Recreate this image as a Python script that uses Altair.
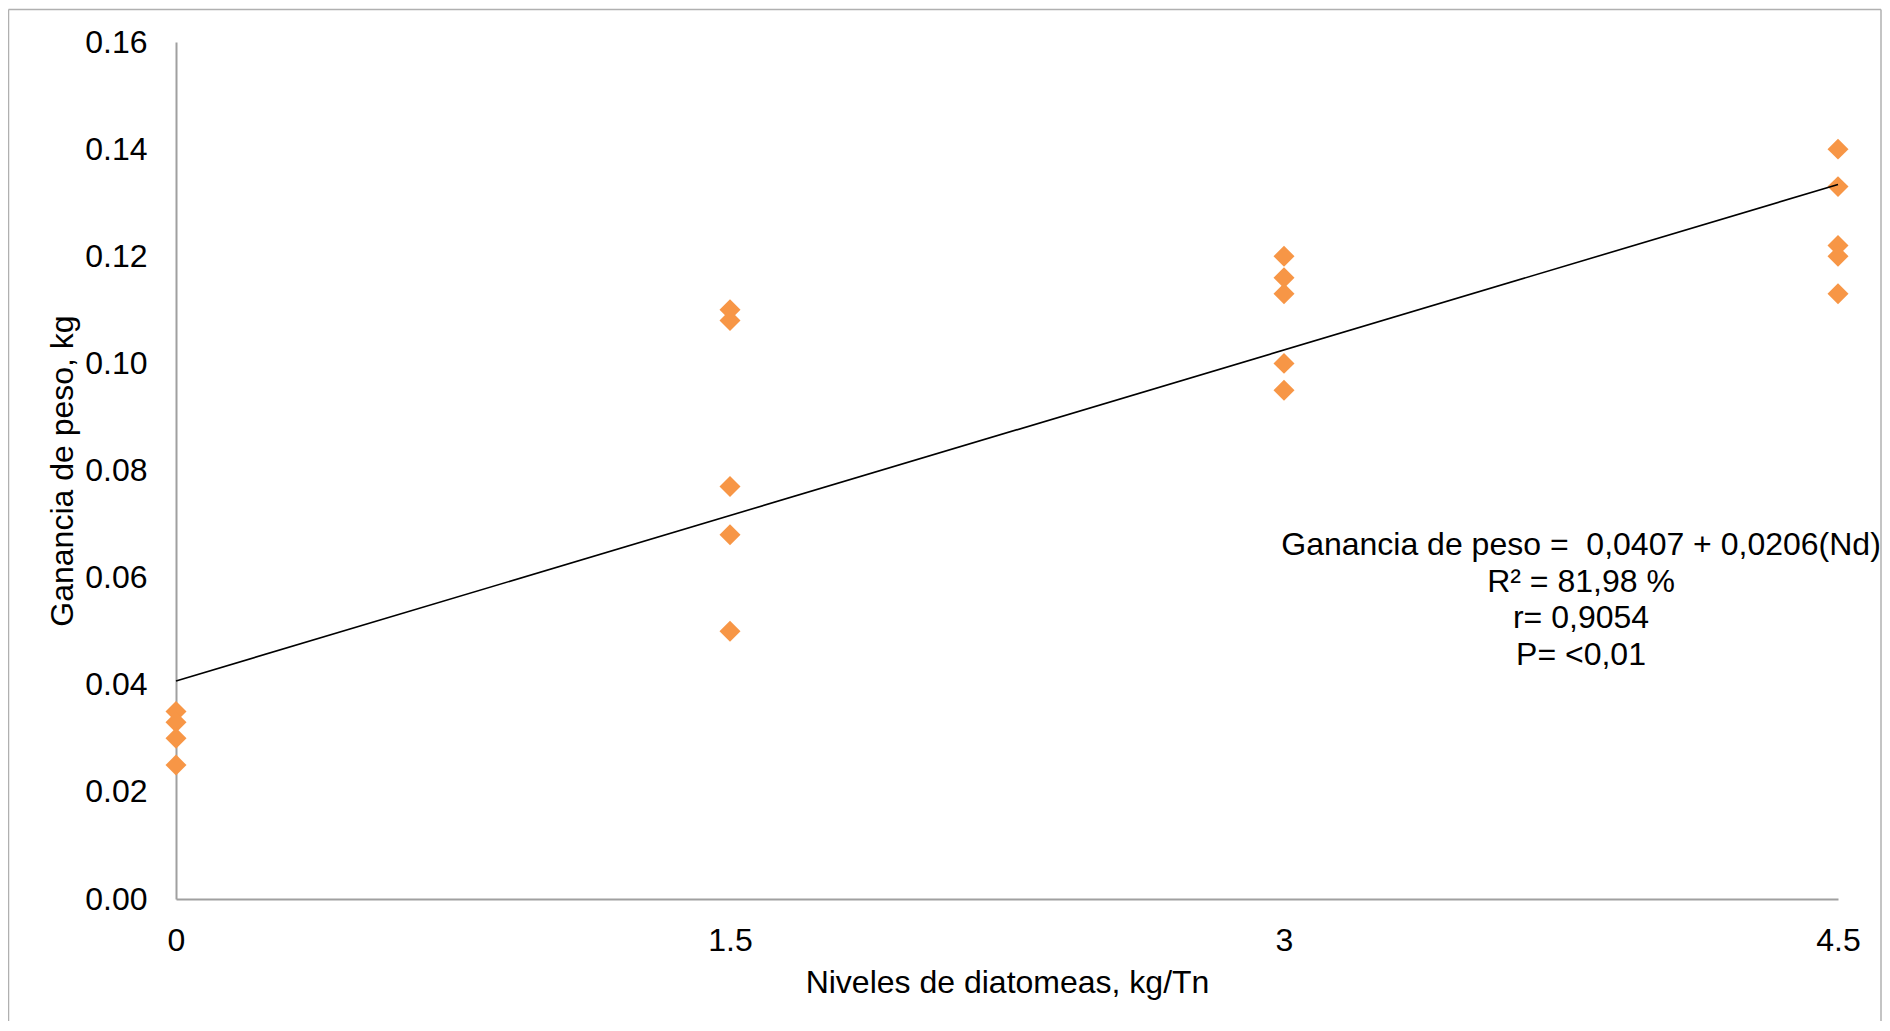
import altair as alt
import pandas as pd

# ---- data ----
diatom_level = [0, 0, 0, 0,
                1.5, 1.5, 1.5, 1.5, 1.5,
                3, 3, 3, 3, 3,
                4.5, 4.5, 4.5, 4.5, 4.5]
weight_gain = [0.035, 0.033, 0.030, 0.025,
               0.110, 0.108, 0.077, 0.068, 0.050,
               0.120, 0.116, 0.113, 0.100, 0.095,
               0.140, 0.133, 0.122, 0.120, 0.113]

trend_x = [0, 4.5]
trend_y = [0.0407, 0.1334]

x_ticks = [0, 1.5, 3, 4.5]
y_ticks = [0.00, 0.02, 0.04, 0.06, 0.08, 0.10, 0.12, 0.14, 0.16]

annotation_lines = [
    "Ganancia de peso = \u00a00,0407 + 0,0206(Nd)",
    "R\u00b2 = 81,98 %",
    "r= 0,9054",
    "P= <0,01",
]

x_title = "Niveles de diatomeas, kg/Tn"
y_title = "Ganancia de peso, kg"

FONT = "Liberation Sans"
W, H = 1662, 857

pts = pd.DataFrame({"x": diatom_level, "y": weight_gain})
trend = pd.DataFrame({"x": trend_x, "y": trend_y})

x_scale = alt.Scale(domain=[0, 4.5], nice=False, zero=False)
y_scale = alt.Scale(domain=[0, 0.16], nice=False)

x_axis = alt.Axis(
    values=x_ticks, format=".1~f", title=x_title, grid=False,
    ticks=False, tickSize=0, labelPadding=26, labelFlush=False,
    domainColor="#a0a0a0", domainWidth=2,
    labelFont=FONT, labelFontSize=32, labelColor="#000000",
    titleFont=FONT, titleFontSize=32, titleFontWeight="normal", titleColor="#000000",
    titleBaseline="alphabetic", titleY=93, titleX=W / 2, titleAlign="center",
)
y_axis = alt.Axis(
    values=y_ticks, format=".2f", title=y_title, grid=False,
    ticks=False, tickSize=0, labelPadding=29, labelFlush=False,
    domainColor="#a0a0a0", domainWidth=2,
    labelFont=FONT, labelFontSize=32, labelColor="#000000",
    titleFont=FONT, titleFontSize=32, titleFontWeight="normal", titleColor="#000000",
    titleBaseline="alphabetic", titleX=-104, titleY=H / 2, titleAlign="center",
    titleAngle=270,
)

one = pd.DataFrame({"k": [0]})
FRAME = dict(color="#b0b0b0", strokeWidth=1.5)
frame_top = alt.Chart(one).mark_rule(**FRAME).encode(
    x=alt.value(-167.5), x2=alt.value(1705), y=alt.value(-32.5), y2=alt.value(-32.5)
)
frame_left = alt.Chart(one).mark_rule(**FRAME).encode(
    x=alt.value(-167.5), x2=alt.value(-167.5), y=alt.value(-32.5), y2=alt.value(1100)
)
frame_right = alt.Chart(one).mark_rule(**FRAME).encode(
    x=alt.value(1705), x2=alt.value(1705), y=alt.value(-32.5), y2=alt.value(1100)
)

points = alt.Chart(pts).mark_point(
    shape="diamond", filled=True, size=440, color="#F79646", opacity=1
).encode(
    x=alt.X("x:Q", scale=x_scale, axis=x_axis),
    y=alt.Y("y:Q", scale=y_scale, axis=y_axis),
)

line = alt.Chart(trend).mark_line(color="#000000", strokeWidth=1.6).encode(
    x=alt.X("x:Q", scale=x_scale),
    y=alt.Y("y:Q", scale=y_scale),
)

text = alt.Chart(one).mark_text(
    font=FONT, fontSize=32, color="#000000", align="center",
    baseline="alphabetic", lineHeight=36.5,
).encode(
    x=alt.value(1405), y=alt.value(513),
    text=alt.value(annotation_lines),
)

chart = alt.layer(frame_top, frame_left, frame_right, points, line, text).properties(
    width=W, height=H,
    autosize="none",
    padding={"left": 168, "top": 34, "right": 44, "bottom": 122},
).configure(background="#ffffff").configure_view(stroke=None)

chart.save("out.html", embed_options={"renderer": "svg", "actions": False})
